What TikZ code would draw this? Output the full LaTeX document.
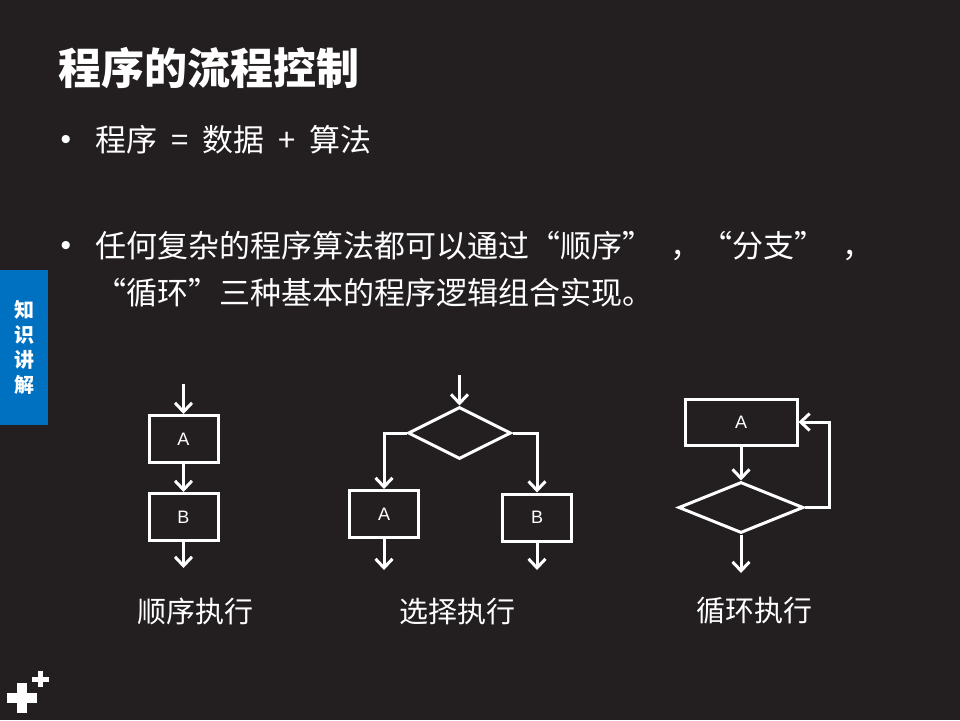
\documentclass[tikz,border=0pt]{standalone}
\usepackage{fontspec}
\setsansfont{Liberation Sans}
\newfontfamily\cjk{Noto Sans CJK SC}
\usetikzlibrary{shapes.geometric,arrows.meta}

\definecolor{slidebg}{HTML}{231F20}
\definecolor{tabblue}{HTML}{0070C0}

\tikzset{
  flow/.style={white, line width=3pt, -{Straight Barb[length=9pt,width=17pt,line width=3pt]}},
  stepbox/.style={draw=white, line width=3pt, rectangle, minimum width=69pt, minimum height=47pt,
    inner sep=0pt, text=white, font=\sffamily\fontsize{18}{20}\selectfont},
  testbox/.style={draw=white, line width=3pt, diamond, aspect=2, inner sep=0pt,
    minimum width=103pt, minimum height=52pt},
  caption/.style={text=white, font=\cjk\fontsize{29}{32}\selectfont},
  bodytext/.style={text=white, anchor=west, inner sep=0pt, font=\cjk\fontsize{31}{36}\selectfont},
  bulletmark/.style={text=white, anchor=base, inner sep=0pt, font=\sffamily\fontsize{30}{30}\selectfont}
}

\begin{document}
\begin{tikzpicture}[x=1pt, y=-1pt]
  \fill[slidebg] (0,0) rectangle (960,720);
  \useasboundingbox (0,0) rectangle (960,720);

  % title and bullets
  \node[bodytext, font=\cjk\bfseries\fontsize{43}{46}\selectfont] (title) at (58,68) {程序的流程控制};
  \node[bulletmark] (dot1) at (66,149) {•};
  \node[bodytext] (line1) at (95,140) {\spaceskip=14pt 程序 = 数据 + 算法};
  \node[bulletmark] (dot2) at (66,255) {•};
  \node[bodytext] (line2) at (95,246)
    {任何复杂的程序算法都可以通过“顺序”\hspace{17pt}，“分支”\hspace{17pt}，};
  \node[bodytext] (line3) at (95,293) {“循环”三种基本的程序逻辑组合实现。};

  % side tab
  \fill[tabblue] (0,270) rectangle (48,425);
  \node[text=white, font=\cjk\bfseries\fontsize{20}{25}\selectfont, align=center] (tab) at (24,347)
    {知\\识\\讲\\解};

  % logo
  \fill[white] (7,693) rectangle (37,703);
  \fill[white] (17,683) rectangle (27,713);
  \fill[white] (32,677) rectangle (49,682);
  \fill[white] (38,671) rectangle (43,687);

  % sequence
  \coordinate (seqin) at (183.5,384);
  \node[stepbox] (seqA) at (183.5,439) {A};
  \node[stepbox] (seqB) at (183.5,517) {B};
  \coordinate (seqout) at (183.5,568);
  \draw[flow] (seqin) -- (seqA);
  \draw[flow] (seqA) -- (seqB);
  \draw[flow] (seqB) -- (seqout);
  \node[caption] (seqcap) at (195,611) {顺序执行};

  % selection
  \coordinate (selin) at (459.5,375);
  \node[testbox] (sel) at (459.5,433) {};
  \node[stepbox] (selA) at (384,514) {A};
  \node[stepbox] (selB) at (537,517.5) {B};
  \coordinate (selAout) at (384,570);
  \coordinate (selBout) at (537,570);
  \draw[flow] (selin) -- (sel);
  \draw[flow] (sel.west) -| (selA.north);
  \draw[flow] (sel.east) -| (selB.north);
  \draw[flow] (selA) -- (selAout);
  \draw[flow] (selB) -- (selBout);
  \node[caption] (selcap) at (457,611) {选择执行};

  % loop
  \node[stepbox, minimum width=112pt, minimum height=46pt] (loopA) at (741,422) {A};
  \node[testbox, minimum width=125pt, minimum height=51pt] (loop) at (741,507.5) {};
  \coordinate (loopout) at (741,573);
  \draw[flow] (loopA) -- (loop);
  \draw[flow] (loop.east) -- ++(24,0) |- (loopA.east);
  \draw[flow] (loop) -- (loopout);
  \node[caption] (loopcap) at (754,611) {循环执行};
\end{tikzpicture}
\end{document}
